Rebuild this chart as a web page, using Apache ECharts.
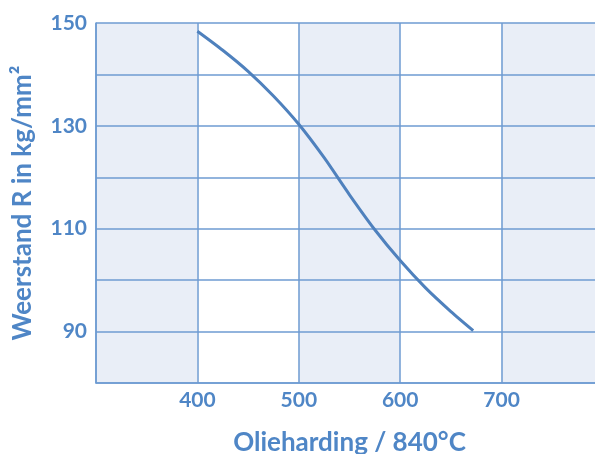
<!DOCTYPE html>
<html>
<head>
<meta charset="utf-8">
<script src="https://cdn.jsdelivr.net/npm/echarts@6/dist/echarts.min.js"></script>
<style>
  html, body { margin: 0; padding: 0; background: #fff; }
  #chart { width: 595px; height: 454px; }
</style>
</head>
<body>
<div id="chart"></div>
<script>
// Tensile strength versus tempering temperature (oil-hardened at 840 °C)
const temperature = [400, 425, 450, 475, 500, 525, 550, 575, 600, 625, 650, 672];
const strength    = [148.4, 144.7, 140.6, 135.8, 130.3, 123.8, 116.6, 109.8, 103.8, 98.5, 93.9, 90.2];
const xTicks = [400, 500, 600, 700];
const yTicks = [90, 110, 130, 150];

const blue = '#4F81BD';
const textBlue = '#4F86C6';
const gridBlue = '#6E9BD2';
const font = 'Lato';

const chart = echarts.init(document.getElementById('chart'));
chart.setOption({
  animation: false,
  grid: { left: 96, top: 23, right: -8, bottom: 71, outerBoundsMode: 'none' },
  xAxis: {
    type: 'value',
    z: 1,
    min: 300, max: 800, interval: 100,
    name: 'Olieharding / 840°C',
    nameLocation: 'middle',
    nameGap: 47,
    nameMoveOverlap: false,
    nameTextStyle: { color: textBlue, fontFamily: font, fontWeight: 'bold', fontSize: 26 },
    axisLine: { show: true, lineStyle: { color: gridBlue, width: 1.5 } },
    axisTick: { show: false },
    axisLabel: {
      color: textBlue, fontFamily: font, fontWeight: 'bold', fontSize: 21, margin: 7,
      formatter: v => xTicks.includes(v) ? String(v) : ''
    },
    splitLine: { show: true, lineStyle: { color: gridBlue, width: 1.5 } },
    splitArea: { show: true, areaStyle: { color: ['#E9EEF7', '#FFFFFF'] } }
  },
  yAxis: {
    type: 'value',
    z: 2,
    min: 80, max: 150, interval: 10,
    name: 'Weerstand R in kg/mm²',
    nameLocation: 'middle',
    nameGap: 60,
    nameMoveOverlap: false,
    nameTextStyle: { color: textBlue, fontFamily: font, fontWeight: 'bold', fontSize: 26 },
    axisLine: { show: true, lineStyle: { color: gridBlue, width: 1.5 } },
    axisTick: { show: false },
    axisLabel: {
      color: textBlue, fontFamily: font, fontWeight: 'bold', fontSize: 21, margin: 9,
      formatter: v => yTicks.includes(v) ? String(v) : ''
    },
    splitLine: { show: true, lineStyle: { color: gridBlue, width: 1.5 } }
  },
  series: [{
    type: 'line',
    z: 5,
    data: temperature.map((t, i) => [t, strength[i]]),
    smooth: 0.25,
    showSymbol: false,
    lineStyle: { color: blue, width: 3 }
  }]
});
</script>
</body>
</html>
